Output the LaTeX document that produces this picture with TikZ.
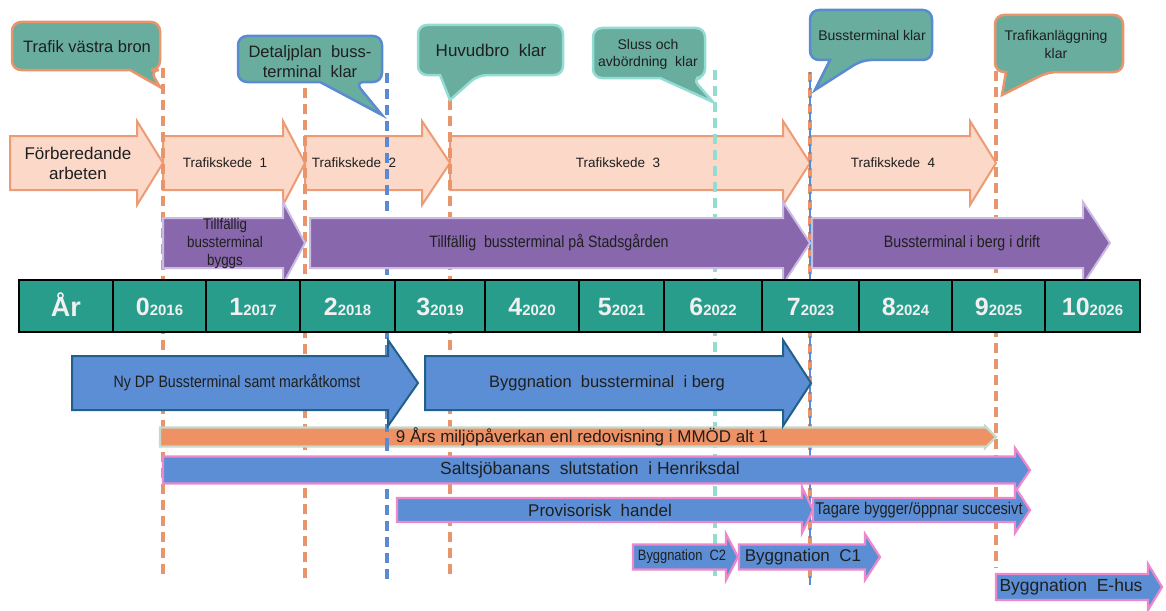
\documentclass[tikz,border=0pt]{standalone}
\usepackage{fontspec}
\setmainfont{Liberation Sans}
\newfontfamily\narrowfont[FakeStretch=0.86]{Liberation Sans}

\definecolor{peachfill}{HTML}{FBD8C8}
\definecolor{peachline}{HTML}{EC9B74}
\definecolor{orangeline}{HTML}{E9956B}
\definecolor{blueline}{HTML}{5A8BD0}
\definecolor{tealline}{HTML}{93DCD2}
\definecolor{calloutfill}{HTML}{68AD9E}
\definecolor{purplefill}{HTML}{8867AD}
\definecolor{purpleline}{HTML}{CBBBE3}
\definecolor{barfill}{HTML}{289D8C}
\definecolor{bluefill}{HTML}{5B8ED4}
\definecolor{darkblue}{HTML}{22608C}
\definecolor{pinkline}{HTML}{EC88CB}
\definecolor{orangebar}{HTML}{EE9164}
\definecolor{greyline}{HTML}{C6D9CB}
\definecolor{textdark}{HTML}{1F1F1F}

\begin{document}
\begin{tikzpicture}[x=1pt,y=-1pt,
    peacharrow/.style={draw=peachline,fill=peachfill,line width=2pt},
    purplearrow/.style={draw=purpleline,fill=purplefill,line width=2pt},
    bluearrow/.style={draw=darkblue,fill=bluefill,line width=2pt},
    pinkarrow/.style={draw=pinkline,fill=bluefill,line width=2.2pt},
    envarrow/.style={draw=greyline,fill=orangebar,line width=2.2pt},
    callout/.style={fill=calloutfill,line width=2.5pt},
    dashline/.style={line width=3.6pt,dash pattern=on 10pt off 6pt},
    cell/.style={draw=black,fill=barfill,line width=1.5pt},
    lbl/.style={inner sep=0pt,align=center,text=textdark},
    yearlbl/.style={inner sep=0pt,text=white!94!black,anchor=base,font=\bfseries}]
    \useasboundingbox (0,0) rectangle (1166,610);

    % Trafikskeden (row 1)
    \foreach \xa/\xh/\xb in {10/137/163, 163/283/305, 305/422/450, 450/783/810, 810/970/996}{
      \draw [peacharrow] (\xa,136) -- (\xh,136) -- (\xh,121) -- (\xb,163) -- (\xh,205) -- (\xh,190) -- (\xa,190) -- cycle;
    }
    \node [lbl, font=\fontsize{17}{20}\selectfont] (prep) at (78,163) {Förberedande\\arbeten};
    \node [lbl, font=\fontsize{13.5}{16}\selectfont] (ts1) at (225,163) {Trafikskede \ 1};
    \node [lbl, font=\fontsize{13.5}{16}\selectfont] (ts2) at (354,163) {Trafikskede \ 2};
    \node [lbl, font=\fontsize{13.5}{16}\selectfont] (ts3) at (618,163) {Trafikskede \ 3};
    \node [lbl, font=\fontsize{13.5}{16}\selectfont] (ts4) at (893,163) {Trafikskede \ 4};

    % Milestone lines
    \foreach \x/\ya/\yb/\col in {163/68/578/orangeline, 305/88/578/orangeline, 387/73/585/blueline,
                                 450/100/578/orangeline, 715/70/578/tealline, 810/72/582/orangeline,
                                 996/55/568/orangeline}{
      \draw [dashline, color=\col] (\x,\ya) -- (\x,\yb);
    }
    \draw [dashline, color=blueline, line width=2.4pt, dash phase=8pt] (810,72) -- (810,585);

    % Miljopaverkan bar
    \draw [envarrow] (160,427.5) -- (985,427.5) -- (985,426) -- (996,437) -- (985,448) -- (985,446.5) -- (160,446.5) -- cycle;
    \draw [dashline, color=blueline, dash phase=2pt] (387,424) -- (387,450);
    \node [lbl, font=\fontsize{17}{20}\selectfont] (env) at (582,437) {9 Års miljöpåverkan enl redovisning i MMÖD alt 1};

    % Callouts
    \foreach \xa/\ya/\xb/\yb/\pa/\pb/\tx/\ty/\col in {12/22/160/70/130/150/160/87/orangeline,
                                                     238/36/382/82/320/355/382/115/blueline,
                                                     418/25/563/75/440/478/450/100/tealline,
                                                     593/28/705/78/660/692/713/102/tealline,
                                                     810/10/932/60/830/862/815/90/blueline,
                                                     995/15/1123/72/1006/1048/1002/95/orangeline}{
      \draw [callout, draw=\col] (\xa,{(\ya+\yb)/2}) [rounded corners=9pt] -- (\xa,\ya) -- (\xb,\ya) -- (\xb,\yb)
        -- (\pb,\yb) [sharp corners] -- (\tx,\ty) -- (\pa,\yb) [rounded corners=9pt] -- (\xa,\yb) -- cycle;
    }
    \node [lbl, font=\fontsize{16.5}{20}\selectfont] (bron) at (87,47) {Trafik västra bron};
    \node [lbl, font=\fontsize{16.5}{20}\selectfont] (detalj) at (310,62) {Detaljplan \ buss-\\terminal \ klar};
    \node [lbl, font=\fontsize{17}{20}\selectfont] (huvudbro) at (491,50) {Huvudbro \ klar};
    \node [lbl, font=\fontsize{14}{17}\selectfont] (sluss) at (648,54) {Sluss och\\avbördning \ klar};
    \node [lbl, font=\fontsize{14}{17}\selectfont] (bussklar) at (872,35) {Bussterminal klar};
    \node [lbl, font=\fontsize{14}{18}\selectfont] (trafikanl) at (1056,44) {Trafikanläggning\\klar};

    % Bussterminal (row 2)
    \foreach \xa/\xh/\xb in {163/283/305, 310/783/810, 812/1083/1110}{
      \draw [purplearrow] (\xa,218) -- (\xh,218) -- (\xh,202) -- (\xb,243) -- (\xh,284) -- (\xh,268) -- (\xa,268) -- cycle;
    }
    \node [lbl, font=\narrowfont\fontsize{15.5}{18}\selectfont] (tfbyggs) at (225,243) {Tillfällig\\bussterminal\\byggs};
    \node [lbl, font=\narrowfont\fontsize{16.5}{20}\selectfont] (tfstads) at (549,243) {Tillfällig \ bussterminal på Stadsgården};
    \node [lbl, font=\narrowfont\fontsize{16.5}{20}\selectfont] (idrift) at (962,243) {Bussterminal i berg i drift};

    % Year bar
    \draw [cell] (19,280) rectangle (113,332);
    \node [yearlbl, font=\bfseries\fontsize{27}{27}\selectfont] (ar) at (66,316) {År};
    \foreach \xa/\xb [count=\i from 0] in {113/206, 206/300, 300/395, 395/485, 485/579, 579/664,
                                          664/762, 762/859, 859/952, 952/1045, 1045/1140}{
      \draw [cell] (\xa,280) rectangle (\xb,332);
      \node [yearlbl] (yr\i) at ({(\xa+\xb)/2},315)
        {{\fontsize{25}{25}\selectfont\i}{\fontsize{15}{15}\selectfont\the\numexpr2016+\i\relax}};
    }

    % Detaljplan och byggnation
    \foreach \xa/\xh/\xb in {72/388/418, 425/783/811}{
      \draw [bluearrow] (\xa,356) -- (\xh,356) -- (\xh,340) -- (\xb,383) -- (\xh,426) -- (\xh,410) -- (\xa,410) -- cycle;
    }
    \node [lbl, font=\narrowfont\fontsize{16.5}{20}\selectfont] (nydp) at (237,383) {Ny DP Bussterminal samt markåtkomst};
    \node [lbl, font=\fontsize{16.5}{20}\selectfont] (bygg) at (607,383) {Byggnation \ bussterminal \ i berg};

    % Henriksdal
    \foreach \xa/\xh/\xb/\yc/\bh/\hh in {163/1015/1030/470/13.5/22, 397/802/813/510/12/23, 813/1015/1030/510/12/23,
                                        633/726/738/557/12.5/23, 739/865/880/557/12.5/23, 996/1148/1162/587/13/23}{
      \draw [pinkarrow] (\xa,\yc-\bh) -- (\xh,\yc-\bh) -- (\xh,\yc-\hh) -- (\xb,\yc) -- (\xh,\yc+\hh)
        -- (\xh,\yc+\bh) -- (\xa,\yc+\bh) -- cycle;
    }
    \node [lbl, font=\fontsize{17.5}{20}\selectfont] (saltsjo) at (590,470) {Saltsjöbanans \ slutstation \ i Henriksdal};
    \node [lbl, font=\fontsize{17}{20}\selectfont] (provis) at (600,510) {Provisorisk \ handel};
    \node [lbl, font=\narrowfont\fontsize{17}{20}\selectfont] (tagare) at (919,510) {Tagare bygger/öppnar succesivt};
    \node [lbl, font=\narrowfont\fontsize{15}{18}\selectfont] (c2) at (682,557) {Byggnation \ C2};
    \node [lbl, font=\fontsize{17}{20}\selectfont] (c1) at (803,557) {Byggnation \ C1};
    \node [lbl, font=\fontsize{17.5}{20}\selectfont] (ehus) at (1071,587) {Byggnation \ E-hus};
\end{tikzpicture}
\end{document}
